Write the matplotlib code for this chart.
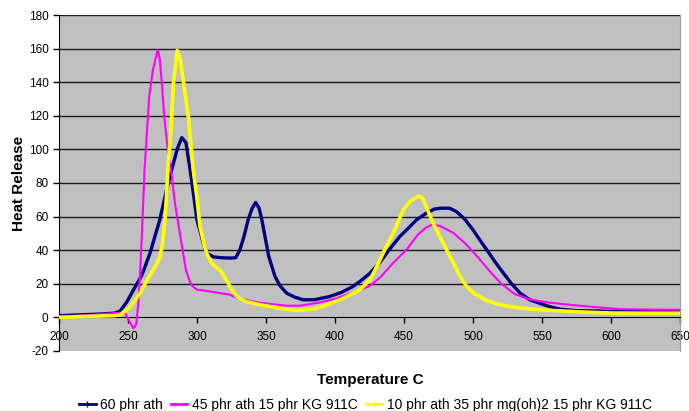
import matplotlib
matplotlib.use('Agg')
import matplotlib.pyplot as plt
from matplotlib.lines import Line2D

plt.rcParams['font.family'] = ['Liberation Sans', 'DejaVu Sans']
plt.rcParams['axes.unicode_minus'] = False

# 60 phr ath
t_ath = [200, 215, 230, 240, 244, 249, 254, 260, 266, 273, 278, 282, 286, 289,
         292, 295, 300, 304, 307, 312, 318, 324, 328, 331, 334, 337, 340, 342.5,
         345, 347, 350, 352, 356.5, 360, 365, 371, 377, 385, 396, 405, 413, 418,
         425, 433, 440, 447, 453, 459, 466, 472, 477, 483, 488, 494, 500, 505,
         510, 516, 522, 528, 534, 541, 548, 555, 563, 575, 590, 606, 630, 650]
v_ath = [1, 1.5, 2, 2.5, 3.5, 9, 16.4, 25, 38.3, 58, 76, 89, 101, 107,
         104, 88, 58, 46, 38.3, 36, 35.5, 35.3, 35.5, 40, 48, 58, 65, 68.4,
         65, 58, 45, 36.3, 24.4, 19, 14.4, 12, 10.5, 10.5, 12.4, 15, 18.4, 21.4,
         26, 33.3, 41, 48.2, 53, 58, 62, 64.5, 65, 65, 63, 58.5, 52.1, 46,
         40.2, 33, 26.4, 20, 14.5, 10.5, 8.5, 6.5, 4.9, 4, 3.8, 3.5, 3.5, 3.5]

# 45 phr ath 15 phr KG 911C
t_kg = [200, 215, 230, 240.6, 245, 248, 251, 254, 256, 257.5, 259, 260, 262,
        265.4, 268, 270, 271.5, 273, 274.4, 276.3, 279, 281.5, 284, 288, 292,
        295, 297, 300, 305, 310, 317, 324, 329, 340, 350, 365, 375, 389, 400,
        410, 425, 433, 442, 452, 460, 466, 470, 476, 486, 495, 503, 511, 520,
        530, 541, 555, 570, 590, 606, 630, 650]
v_kg = [0.5, 1, 1.8, 2.6, 2.7, 2.5, -2.4, -6.5, -4, 8.7, 30, 48, 88,
        131.5, 147, 154, 159.3, 154, 141, 119.6, 98, 86, 68, 48, 28,
        21, 18.4, 16.5, 16, 15.4, 14.4, 13.5, 11.5, 9.5, 8.3, 6.9, 7, 8.9, 11,
        14, 18.6, 24, 32.3, 40.5, 49.2, 53.5, 55.1, 54.5, 50.2, 43.5, 36.3, 28.5, 20.4,
        14, 10.7, 8.8, 7.5, 6, 4.9, 4.6, 4.5]

# 10 phr ath 35 phr mg(oh)2 15 phr KG 911C
t_mg = [200, 215, 230, 240, 244, 250, 254, 258.7, 263, 268.3, 271, 273.2,
        275, 276.8, 278, 279.2, 281, 283, 285.7, 288, 290, 293.7, 297.3,
        299.8, 302.2, 305, 307, 310, 314.3, 316.7, 320, 323.9, 328.8, 335,
        345.6, 360, 372, 385, 394, 405, 418, 425.4, 432.6, 437, 442.2, 449.5,
        455, 459.2, 462, 464, 467, 471.2, 476, 480.9, 486, 490.6, 495, 500.2,
        510, 519.6, 530, 541, 560, 580, 600, 625, 650]
v_mg = [0, 0.5, 0.8, 1, 1.5, 5, 9, 14.4, 21, 28.3, 32, 36,
        44, 58, 74, 92, 110, 140, 158.9, 153, 141.4, 119.6, 87.8,
        72, 54, 44, 38.3, 33, 29.3, 28.3, 24, 18.4, 12.4, 9.5,
        7.5, 5.5, 4.1, 5, 7.5, 11, 16.4, 22.4, 34.3, 42, 50.2, 64,
        69.5, 71.6, 72, 70, 64, 56, 48, 40.2, 32, 24.4, 19, 14.5,
        10, 7.5, 6, 5, 4, 3.2, 2.6, 2.5, 2.5]

labels = ['60 phr ath', '45 phr ath 15 phr KG 911C',
          '10 phr ath 35 phr mg(oh)2 15 phr KG 911C']
colors = ['#000080', '#FF00FF', '#FFFF00']

fig = plt.figure(figsize=(6.89, 4.11), dpi=100)
ax = fig.add_axes([0.0856, 0.146, 0.9014, 0.8175])
ax.set_facecolor('#C0C0C0')

for y in range(20, 181, 20):
    ax.axhline(y, color='#1a1a1a', lw=1.0, zorder=1)

ax.plot(t_ath, v_ath, color=colors[0], lw=2.4, zorder=3)
ax.plot(t_kg, v_kg, color=colors[1], lw=1.5, zorder=3)
ax.plot(t_mg, v_mg, color=colors[2], lw=2.6, zorder=4)

ax.set_xlim(200, 650)
ax.set_ylim(-20, 180)
ax.set_xticks(range(200, 651, 50))
ax.set_yticks(range(-20, 181, 20))

ax.spines['bottom'].set_position(('data', 0))
ax.spines['bottom'].set_color('black')
ax.spines['top'].set_visible(False)
ax.spines['right'].set_color('#9a9a9a')
ax.spines['left'].set_color('black')
ax.tick_params(axis='both', direction='out', length=4, width=1,
               labelsize=8.5, colors='black')
ax.tick_params(axis='x', pad=6)

ax.set_ylabel('Heat Release', fontsize=11, fontweight='bold', labelpad=2)
fig.text(0.537, 0.075, 'Temperature C', fontsize=11, fontweight='bold',
         ha='center', va='center')

handles = [Line2D([], [], color=colors[0], lw=2, marker='+', ms=4),
           Line2D([], [], color=colors[1], lw=2),
           Line2D([], [], color=colors[2], lw=2, marker='+', ms=4)]
fig.legend(handles, labels, loc='center', bbox_to_anchor=(0.53, 0.014),
           ncol=3, frameon=False, fontsize=10, handlelength=1.2,
           handletextpad=0.3, columnspacing=0.6)

fig.savefig('out.png', dpi=100)
